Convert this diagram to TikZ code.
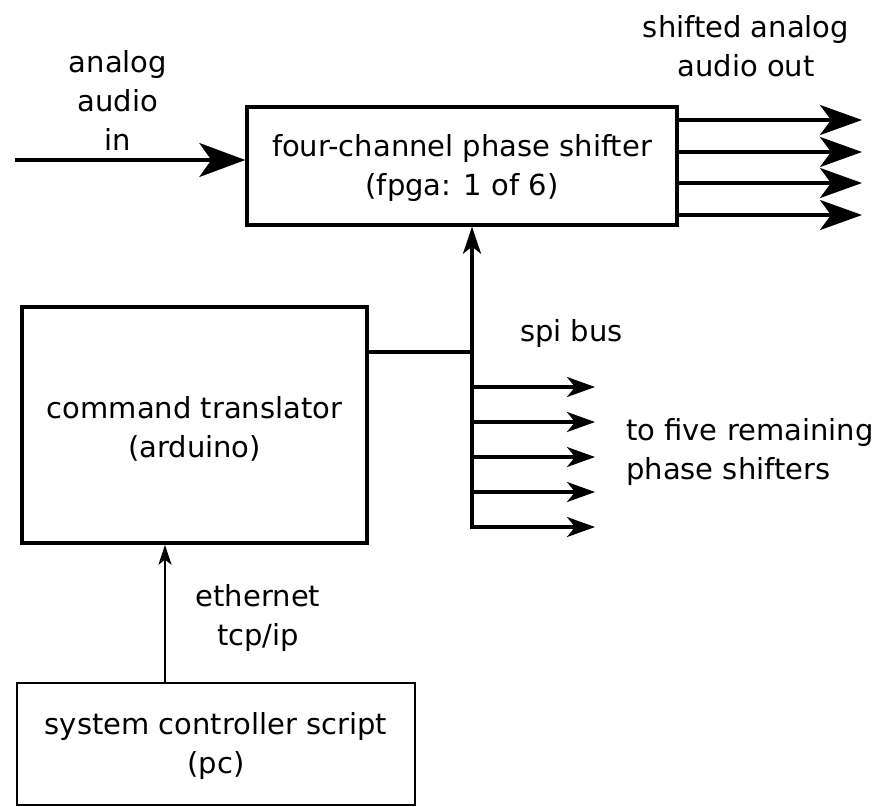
\documentclass[tikz,border=0pt]{standalone}
\usepackage{fontspec}
\setmainfont{DejaVu Sans}
\usetikzlibrary{arrows.meta}
\begin{document}
\begin{tikzpicture}[x=1pt,y=-1pt,
  box/.style={draw,line width=3.4pt,inner sep=0pt},
  lbl/.style={font=\fontsize{29}{39}\selectfont,align=center,inner sep=0pt},
  inarrow/.style={line width=3.4pt,-{Stealth[length=46pt,width=34pt,inset=12pt]}},
  bigarrow/.style={line width=3.2pt,-{Stealth[length=42pt,width=30pt,inset=11pt]}},
  midarrow/.style={line width=3.2pt,-{Stealth[length=28pt,width=20pt,inset=8pt]}},
  smallarrow/.style={line width=3.2pt,-{Stealth[length=27pt,width=18pt,inset=7pt]}},
  tinyarrow/.style={line width=2.2pt,-{Stealth[length=20pt,width=13pt,inset=5pt]}}]
\useasboundingbox (0,0) rectangle (880,806);
% boxes
\node[box,minimum width=430pt,minimum height=118pt] (fpga) at (462,166) {};
\node[lbl] (fpgat) at (462,168) {four-channel phase shifter\\(fpga: 1 of 6)};
\node[box,minimum width=345pt,minimum height=236pt] (ard) at (194.5,425) {};
\node[lbl] (ardt) at (194.5,429) {command translator\\(arduino)};
\node[draw,line width=2.6pt,minimum width=398pt,minimum height=122pt,inner sep=0pt] (pc) at (216,744) {};
\node[lbl] (pct) at (216,746) {system controller script\\(pc)};
% labels
\node[lbl] (inl) at (118,100) {analog\\audio\\in};
\node[lbl] (outl) at (746,46) {shifted analog\\audio out};
\node[lbl,anchor=west] (spil) at (520,333) {spi bus};
\node[lbl,align=left,anchor=west] (fivel) at (626,452) {to five remaining\\phase shifters};
\node[lbl] (ethl) at (258,618) {ethernet\\tcp/ip};
% coordinates
\coordinate (inS) at (15,160);
\coordinate (bus) at (472,352);
\coordinate (busB) at (472,527);
\foreach \y [count=\i] in {120,152,183,215}{
  \coordinate (o\i) at (677,\y);
  \coordinate (oe\i) at (862,\y);
}
\foreach \y [count=\i] in {387,422,457,492,527}{
  \coordinate (b\i) at (472,\y);
  \coordinate (be\i) at (595,\y);
}
% connectors
\draw[inarrow] (inS) -- (fpga.west |- inS);
\foreach \i in {1,...,4}{\draw[bigarrow] (o\i) -- (oe\i);}
\draw[line width=3.4pt] (ard.east |- bus) -- (bus);
\draw[line width=3.4pt,line cap=rect] (busB) -- (bus);
\draw[smallarrow] (bus) -- (fpga.south -| bus);
\foreach \i in {1,...,5}{\draw[midarrow] (b\i) -- (be\i);}
\draw[tinyarrow] (pc.north -| 165,0) -- (ard.south -| 165,0);
\end{tikzpicture}
\end{document}
